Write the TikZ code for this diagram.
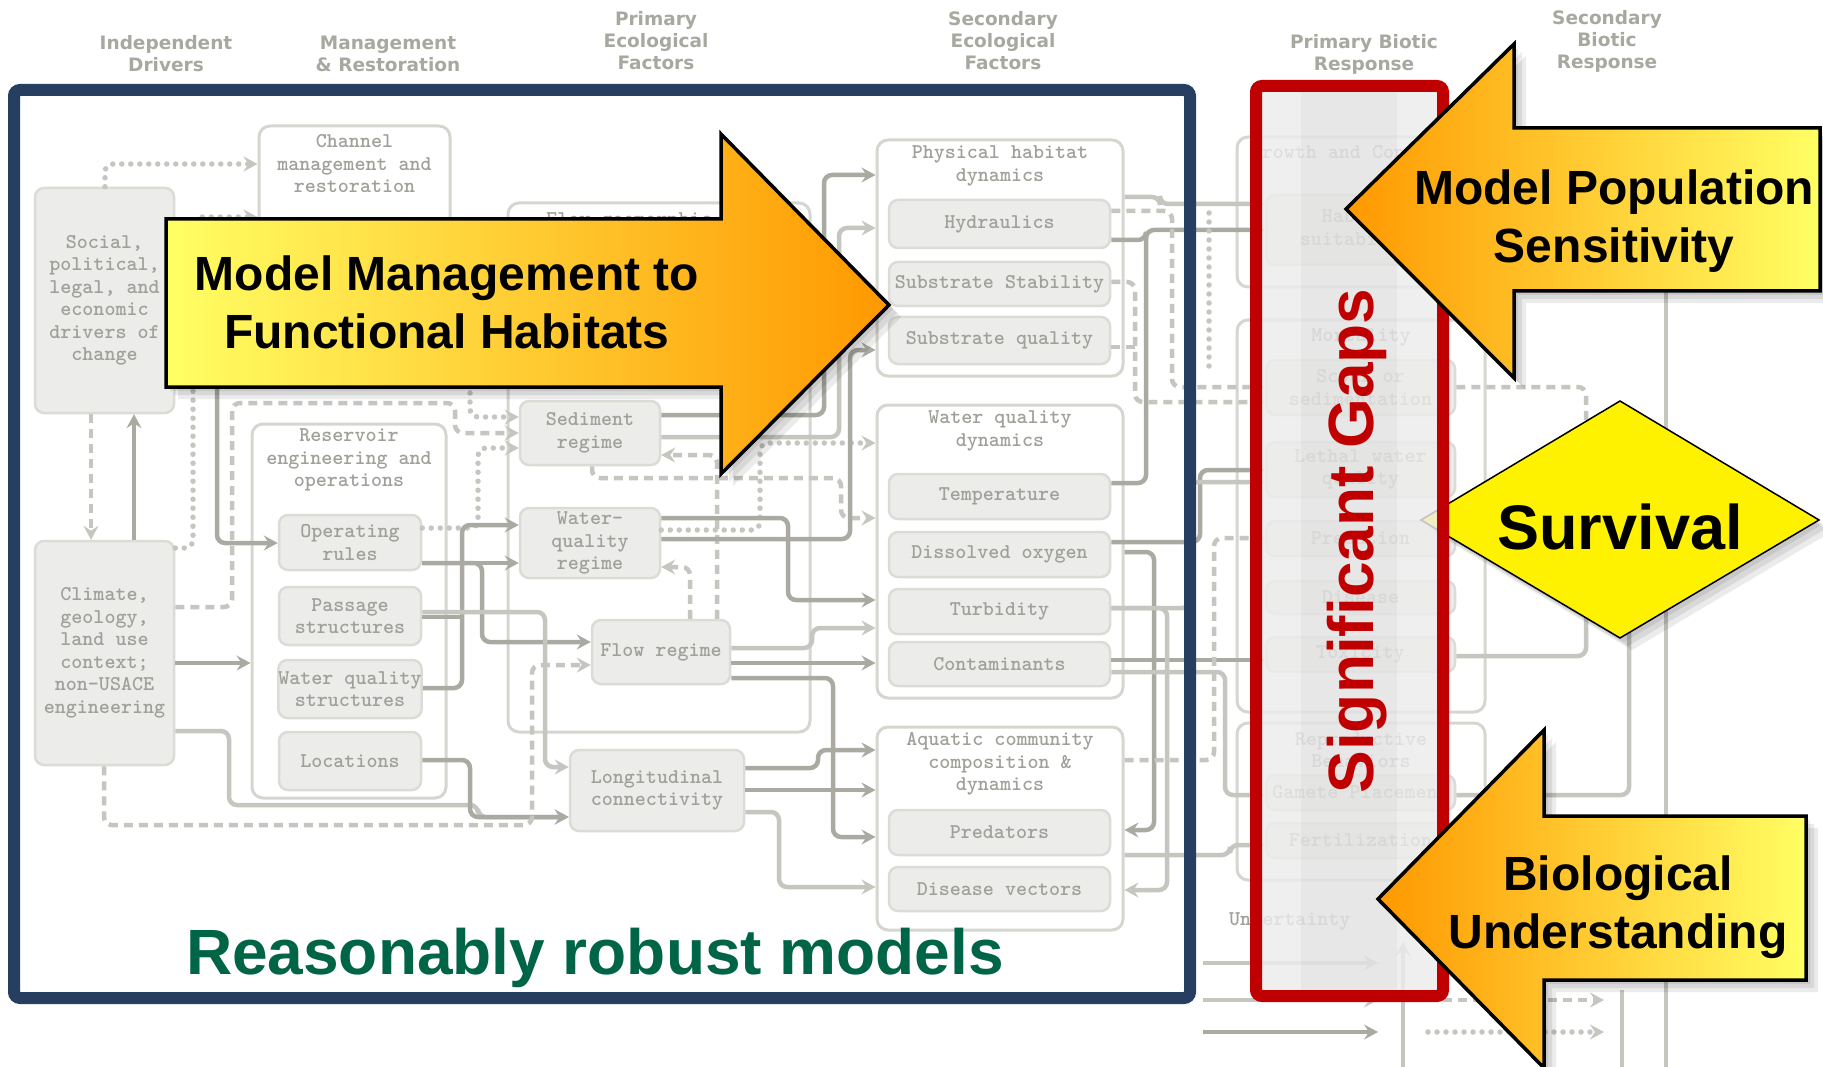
\documentclass[tikz,border=0pt]{standalone}
\usepackage{fontspec}
\setmainfont{Liberation Sans}
\newfontfamily\hdrf{DejaVu Sans}
\usetikzlibrary{arrows.meta}
\definecolor{hdrgray}{RGB}{168,168,160}
\definecolor{txtgray}{RGB}{160,160,154}
\definecolor{boxfill}{RGB}{236,236,234}
\definecolor{boxline}{RGB}{220,220,215}
\definecolor{contline}{RGB}{214,214,209}
\definecolor{ldark}{RGB}{170,170,162}
\definecolor{llight}{RGB}{198,198,192}
\definecolor{navy}{RGB}{38,62,95}
\definecolor{redf}{RGB}{192,0,0}
\definecolor{robust}{RGB}{0,100,70}
\definecolor{yel}{RGB}{255,255,100}
\definecolor{org}{RGB}{255,152,0}
\definecolor{gapfill}{RGB}{236,236,236}
\begin{document}
\begin{tikzpicture}[x=1pt,y=-1pt,
 hdr/.style={font=\hdrf\bfseries\fontsize{18.5}{22}\selectfont,text=hdrgray,align=center,inner sep=0pt},
 mono/.style={font=\ttfamily\bfseries\fontsize{21}{22.5}\selectfont,text=txtgray,align=center,inner sep=0pt},
 fbox/.style={mono,draw=boxline,fill=boxfill,line width=2.5pt,rounded corners=9pt},
 cont/.style={draw=contline,fill=white,line width=3pt,rounded corners=11pt,inner sep=0pt},
 arr/.style={-{Stealth[length=14pt,width=15pt,inset=5pt]}},
 ln/.style={line width=4.5pt,rounded corners=8pt},
 dk/.style={ln,draw=ldark},
 lt/.style={ln,draw=llight},
 dsh/.style={ln,draw=llight,dash pattern=on 9pt off 6pt},
 dtd/.style={ln,draw=llight,line cap=round,dash pattern=on 0pt off 9pt,line width=5.5pt},
 big/.style={font=\bfseries\fontsize{48}{58}\selectfont,align=center,inner sep=0pt},
 shp/.style={draw=black,line width=3.5pt,line join=miter},
]
\useasboundingbox (0,0) rectangle (1823,1067);
\fill[white] (0,0) rectangle (1823,1067);

% ---------- column headers
\node[hdr] (hI) at (166,54) {Independent\\Drivers};
\node[hdr] (hM) at (388,54) {Management\\\& Restoration};
\node[hdr] (hP) at (656,41) {Primary\\Ecological\\Factors};
\node[hdr] (hS) at (1003,41) {Secondary\\Ecological\\Factors};
\node[hdr] (hPB) at (1364,54) {Primary Biotic\\Response};
\node[hdr] (hSB) at (1607,41) {Secondary\\Biotic\\Response};

% ---------- containers
\node[cont,minimum width=191pt,minimum height=244pt] (channel) at (354.5,248) {};
\node[mono] (channelT) at (354.5,164) {Channel\\management and\\restoration};
\node[cont,minimum width=194pt,minimum height=374pt] (resv) at (349,611) {};
\node[mono] (resvT) at (349,460) {Reservoir\\engineering and\\operations};
\node[cont,minimum width=302pt,minimum height=529pt] (flowgeo) at (659,467.5) {};
\node[mono,anchor=west] (flowgeoT) at (546,221) {Flow–geomorphic};
\node[cont,minimum width=246pt,minimum height=236pt] (physhab) at (1000,258) {};
\node[mono] (physhabT) at (1000,166) {Physical habitat\\dynamics};
\node[cont,minimum width=246pt,minimum height=293pt] (wqdyn) at (1000,551.5) {};
\node[mono] (wqdynT) at (1000,431) {Water quality\\dynamics};
\node[cont,minimum width=246pt,minimum height=203pt] (aquatic) at (1000,828.5) {};
\node[mono] (aquaticT) at (1000,764) {Aquatic community\\composition \&\\dynamics};
\node[cont,minimum width=248pt,minimum height=150pt] (growth) at (1361,212) {};
\node[mono] (growthT) at (1361,152) {Growth and Condition};
\node[cont,minimum width=248pt,minimum height=392pt] (mort) at (1361,516) {};
\node[mono] (mortT) at (1361,337) {Mortality};
\node[cont,minimum width=248pt,minimum height=157pt] (repro) at (1361,801.5) {};
\node[mono] (reproT) at (1361,750) {Reproductive\\Behaviors};

% ---------- boxes
\node[fbox,minimum width=139pt,minimum height=225pt] (social) at (104.5,300.5) {Social,\\political,\\legal, and\\economic\\drivers of\\change};
\node[fbox,minimum width=139pt,minimum height=224pt] (climate) at (104.5,653) {Climate,\\geology,\\land use\\context;\\non-USACE\\engineering};
\node[fbox,minimum width=142pt,minimum height=55pt] (oprules) at (350,542.5) {Operating\\rules};
\node[fbox,minimum width=142pt,minimum height=58pt] (passage) at (350,616) {Passage\\structures};
\node[fbox,minimum width=142pt,minimum height=58pt] (wqstruct) at (350,689) {Water quality\\structures};
\node[fbox,minimum width=142pt,minimum height=58pt] (locations) at (350,761) {Locations};
\node[fbox,minimum width=140pt,minimum height=64pt] (sediment) at (590,433) {Sediment\\regime};
\node[fbox,minimum width=140pt,minimum height=70pt] (wqregime) at (590,543) {Water-\\quality\\regime};
\node[fbox,minimum width=138pt,minimum height=64pt] (flowregime) at (661,652) {Flow regime};
\node[fbox,minimum width=174pt,minimum height=81pt] (longit) at (657,790.5) {Longitudinal\\connectivity};
\node[fbox,minimum width=221pt,minimum height=48pt] (hydraulics) at (999.5,224) {Hydraulics};
\node[fbox,minimum width=221pt,minimum height=44pt] (substab) at (999.5,284) {Substrate Stability};
\node[fbox,minimum width=221pt,minimum height=47pt] (subqual) at (999.5,340.5) {Substrate quality};
\node[fbox,minimum width=221pt,minimum height=45pt] (temp) at (999.5,496.5) {Temperature};
\node[fbox,minimum width=221pt,minimum height=45pt] (dox) at (999.5,554.5) {Dissolved oxygen};
\node[fbox,minimum width=221pt,minimum height=45pt] (turb) at (999.5,611.5) {Turbidity};
\node[fbox,minimum width=221pt,minimum height=44pt] (contam) at (999.5,664) {Contaminants};
\node[fbox,minimum width=221pt,minimum height=45pt] (predators) at (999.5,832.5) {Predators};
\node[fbox,minimum width=221pt,minimum height=44pt] (disvec) at (999.5,889) {Disease vectors};
\node[fbox,minimum width=189pt,minimum height=70pt] (habsuit) at (1360.5,230) {Habitat\\suitability};
\node[fbox,minimum width=189pt,minimum height=55pt] (scour) at (1360.5,387.5) {Scour or\\sedimentation};
\node[fbox,minimum width=189pt,minimum height=55pt] (lethal) at (1360.5,469.5) {Lethal water\\quality};
\node[fbox,minimum width=189pt,minimum height=35pt] (predation) at (1360.5,538.5) {Predation};
\node[fbox,minimum width=189pt,minimum height=33pt] (diseaseB) at (1360.5,597.5) {Disease};
\node[fbox,minimum width=189pt,minimum height=35pt] (toxicity) at (1360.5,654.5) {Toxicity};
\node[fbox,minimum width=189pt,minimum height=35pt] (gamete) at (1360.5,792.5) {Gamete Placement};
\node[fbox,minimum width=189pt,minimum height=35pt] (fert) at (1360.5,840.5) {Fertilization};
\node[mono,anchor=west] (uncert) at (1229,921) {Uncertainty};

% ---------- free-end coordinates
\coordinate (sv1) at (1586,520);
\coordinate (sv2) at (1586,560);
\coordinate (sv3) at (1629,560);
\coordinate (sb1) at (1666,291);
\coordinate (sb2) at (1666,1067);
\coordinate (lgA1) at (1203,963); \coordinate (lgA2) at (1378,963);
\coordinate (lgB1) at (1203,1000); \coordinate (lgB2) at (1378,1000);
\coordinate (lgC1) at (1203,1032); \coordinate (lgC2) at (1378,1032);
\coordinate (lgD1) at (1428,1000); \coordinate (lgD2) at (1604,1000);
\coordinate (lgE1) at (1428,1032); \coordinate (lgE2) at (1604,1032);
\coordinate (lgF1) at (1403,1067); \coordinate (lgF2) at (1403,942);
\coordinate (lgG1) at (1622,990); \coordinate (lgG2) at (1622,1067);
\coordinate (dv1) at (1209,213); \coordinate (dv2) at (1209,367);

% ---------- connectors: drivers and management
\draw[dtd,arr] (social.north -| 105,0) -- (105,164) -- (channel.west |- 0,164);
\draw[dtd,arr] (climate.east |- 0,548) -- (193,548) -- (193,217) -- (channel.west |- 0,217);
\draw[dsh,arr] (social.south -| 91,0) -- (climate.north -| 91,0);
\draw[dk,arr] (climate.north -| 134,0) -- (social.south -| 134,0);
\draw[dk,arr] (social.east |- 0,300) -- (217,300) -- (217,543) -- (oprules.west |- 0,543);
\draw[dk,arr] (climate.east |- 0,663) -- (resv.west |- 0,663);
\draw[lt,arr] (climate.east |- 0,731) -- (229,731) -- (229,805) -- (478,805) -- (478,817) -- (longit.west |- 0,817);
\draw[dk,arr] (locations.east |- 0,760) -- (470,760) -- (470,817) -- (longit.west |- 0,817);
\draw[dsh,arr] (climate.south -| 104,0) -- (104,825) -- (532,825) -- (532,665) -- (flowregime.west |- 0,665);
\draw[dsh,arr] (climate.east |- 0,607) -- (232,607) -- (232,403) -- (455,403) -- (455,433) -- (sediment.west |- 0,433);
\draw[dtd,arr] (channel.east |- 0,300) -- (470,300) -- (470,417) -- (sediment.west |- 0,417);
\draw[dtd,arr] (oprules.east |- 0,528) -- (478,528) -- (478,448) -- (sediment.west |- 0,448);
\draw[dk,arr] (oprules.east |- 0,563) -- (wqregime.west |- 0,563);
\draw[dk,arr] (wqstruct.east |- 0,688) -- (462,688) -- (462,525) -- (wqregime.west |- 0,525);
\draw[dk] (passage.east |- 0,617) -- (462,617);
\draw[dk,arr] (oprules.east |- 0,563) -- (482,563) -- (482,642) -- (flowregime.west |- 0,642);
\draw[lt,arr] (passage.east |- 0,612) -- (545,612) -- (545,767) -- (longit.west |- 0,767);

% ---------- connectors: primary to secondary ecological factors
\draw[dk,arr] (sediment.east |- 0,415) -- (824,415) -- (824,175) -- (physhab.west |- 0,175);
\draw[lt,arr] (sediment.east |- 0,437) -- (839,437) -- (839,228) -- (physhab.west |- 0,228);
\draw[dsh,arr] (flowregime.north -| 690,0) -- (690,567) -- (wqregime.east |- 0,567);
\draw[dsh,arr] (flowregime.north -| 717,0) -- (717,455) -- (sediment.east |- 0,455);
\draw[dsh,arr] (sediment.south -| 592,0) -- (592,478) -- (841,478) -- (841,518) -- (wqdyn.west |- 0,518);
\draw[dtd,arr] (wqregime.east |- 0,530) -- (760,530) -- (760,443) -- (wqdyn.west |- 0,443);
\draw[dk,arr] (wqregime.east |- 0,518) -- (788,518) -- (788,600) -- (wqdyn.west |- 0,600);
\draw[dk,arr] (wqregime.east |- 0,539) -- (850,539) -- (850,350) -- (physhab.west |- 0,350);
\draw[lt,arr] (flowregime.east |- 0,648) -- (812,648) -- (812,628) -- (wqdyn.west |- 0,628);
\draw[dk,arr] (flowregime.east |- 0,663) -- (wqdyn.west |- 0,663);
\draw[dk,arr] (flowregime.east |- 0,678) -- (833,678) -- (833,837) -- (aquatic.west |- 0,837);
\draw[dk,arr] (longit.east |- 0,768) -- (818,768) -- (818,750) -- (aquatic.west |- 0,750);
\draw[dk,arr] (longit.east |- 0,790) -- (aquatic.west |- 0,790);
\draw[lt,arr] (longit.east |- 0,812) -- (779,812) -- (779,887) -- (aquatic.west |- 0,887);

% ---------- connectors: secondary factors to biotic response
\draw[lt,arr] (physhab.east |- 0,197) -- (1160,197) -- (1160,204) -- (habsuit.west |- 0,204);
\draw[dk,arr] (hydraulics.east |- 0,240) -- (1146,240) -- (1146,230) -- (habsuit.west |- 0,230);
\draw[dk] (temp.east |- 0,483) -- (1146,483) -- (1146,232);
\draw[dsh,arr] (hydraulics.east |- 0,211) -- (1172,211) -- (1172,387) -- (scour.west |- 0,387);
\draw[dsh,arr] (substab.east |- 0,282) -- (1135,282) -- (1135,402) -- (scour.west |- 0,402);
\draw[dsh] (subqual.east |- 0,347) -- (1135,347);
\draw[dk,arr] (dox.east |- 0,542) -- (1200,542) -- (1200,470) -- (lethal.west |- 0,470);
\draw[lt,arr] (turb.east |- 0,608) -- (1190,608) -- (1190,482) -- (lethal.west |- 0,482);
\draw[dk,arr] (contam.east |- 0,660) -- (toxicity.west |- 0,660);
\draw[dk,arr] (wqdyn.east |- 0,552) -- (1154,552) -- (1154,830) -- (aquatic.east |- 0,830);
\draw[lt,arr] (turb.east |- 0,608) -- (1167,608) -- (1167,890) -- (aquatic.east |- 0,890);
\draw[dsh,arr] (aquatic.east |- 0,760) -- (1214,760) -- (1214,538) -- (predation.west |- 0,538);
\draw[lt,arr] (contam.east |- 0,672) -- (1225,672) -- (1225,795) -- (gamete.west |- 0,795);
\draw[lt,arr] (aquatic.east |- 0,855) -- (1230,855) -- (1230,845) -- (fert.west |- 0,845);
\draw[dtd] (dv1) -- (dv2);

% ---------- biotic response to secondary biotic response
\draw[dsh] (scour.east |- 0,387) -- (1586,387) -- (sv1);
\draw[lt] (toxicity.east |- 0,656) -- (1586,656) -- (sv2);
\draw[lt] (gamete.east |- 0,795) -- (1629,795) -- (sv3);
\draw[lt,line width=3.5pt] (sb1) -- (sb2);

% ---------- legend
\draw[lt,arr] (lgA1) -- (lgA2);
\draw[lt,arr] (lgB1) -- (lgB2);
\draw[dk,arr] (lgC1) -- (lgC2);
\draw[dsh,arr] (lgD1) -- (lgD2);
\draw[dtd,arr] (lgE1) -- (lgE2);
\draw[lt,line width=3.5pt,arr] (lgF1) -- (lgF2);
\draw[lt,line width=3.5pt] (lgG1) -- (lgG2);

% ---------- Survival diamond (under the red frame)
\foreach \d in {4,8,12}{\fill[black,opacity=0.08,shift={(\d,\d)}] (1421,520) -- (1620,401) -- (1819,520) -- (1620,638) -- cycle;}
\path[draw=black,line width=1.5pt,fill=yellow] (1421,520) -- (1620,401) -- (1819,520) -- (1620,638) -- cycle;
\node[font=\bfseries\fontsize{63}{63}\selectfont,anchor=base,inner sep=0pt] (survival) at (1620,549) {Survival};

% ---------- significant gaps frame
\fill[gapfill,opacity=0.82] (1262,92) rectangle (1437,990);
\fill[black,opacity=0.03] (1301,92) rectangle (1397,990);
\draw[redf,line width=12pt,rounded corners=6pt] (1256,86) rectangle (1443,996);
\node[font=\bfseries\fontsize{64}{64}\selectfont,text=redf,rotate=90,anchor=base,inner sep=0pt] (gaps) at (1373,541) {Significant Gaps};

% ---------- robust models frame
\draw[navy,line width=12pt,rounded corners=6pt] (14,90) rectangle (1190,998);
\node[font=\bfseries\fontsize{64}{64}\selectfont,text=robust,anchor=base,inner sep=0pt] (robusttxt) at (595,974) {Reasonably robust models};

% ---------- Model Management arrow
\foreach \d in {4,8,12}{\fill[black,opacity=0.08,shift={(\d,\d)}] (166,219) -- (721,219) -- (721,134) -- (889,305) -- (721,474) -- (721,387) -- (166,387) -- cycle;}
\path[shp,left color=yel,right color=org] (166,219) -- (721,219) -- (721,134) -- (889,305) -- (721,474) -- (721,387) -- (166,387) -- cycle;
\node[big] (mmtxt) at (447,302) {Model Management to\\Functional Habitats};

% ---------- Model Population Sensitivity arrow
\foreach \d in {4,8,12}{\fill[black,opacity=0.08,shift={(\d,\d)}] (1820,128) -- (1514,128) -- (1514,44) -- (1346,209) -- (1514,378) -- (1514,291) -- (1820,291) -- cycle;}
\path[shp,left color=org,right color=yel] (1820,128) -- (1514,128) -- (1514,44) -- (1346,209) -- (1514,378) -- (1514,291) -- (1820,291) -- cycle;
\node[big] (mptxt) at (1614,221) {Model Population\\Sensitivity};

% ---------- Biological Understanding arrow
\foreach \d in {4,8,12}{\fill[black,opacity=0.08,shift={(\d,\d)}] (1806,816) -- (1544,816) -- (1544,730) -- (1378,899) -- (1544,1068) -- (1544,980) -- (1806,980) -- cycle;}
\path[shp,left color=org,right color=yel] (1806,816) -- (1544,816) -- (1544,730) -- (1378,899) -- (1544,1068) -- (1544,980) -- (1806,980) -- cycle;
\node[big] (butxt) at (1618,907) {Biological\\Understanding};
\end{tikzpicture}
\end{document}
